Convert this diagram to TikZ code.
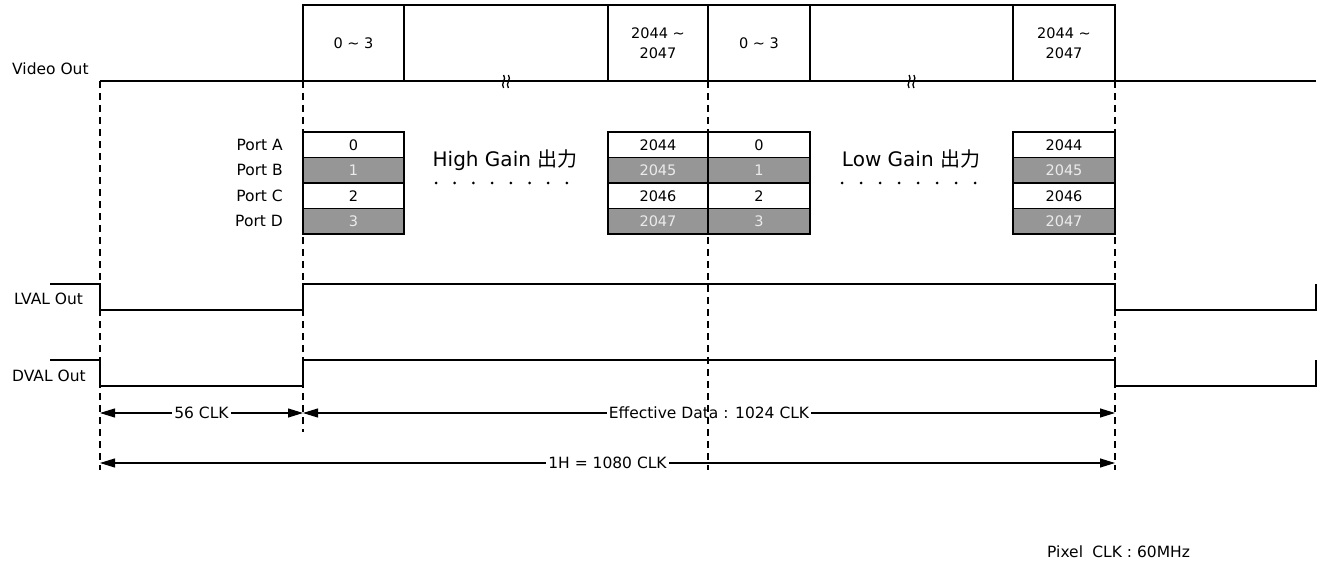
\documentclass[tikz,border=0pt]{standalone}
\usepackage[rgb]{xcolor}
\usepackage{tikz}
\usepackage{fontspec}
\setmainfont{DejaVu Sans}
\newfontfamily\cjk{Noto Sans CJK JP}
\usetikzlibrary{arrows.meta,positioning}

\definecolor{portgray}{RGB}{150,150,150}
\definecolor{porttext}{RGB}{235,235,235}

\tikzset{
  wave/.style={black, line width=1.2pt},
  guide/.style={black, line width=1.1pt, dash pattern=on 7pt off 5pt},
  vbox/.style={draw, line width=1.2pt, minimum height=76pt, inner sep=0pt, outer sep=0pt, align=center, font=\fontsize{14.5}{20}\selectfont},
  pcell/.style={draw, line width=1.2pt, minimum height=25.5pt, inner sep=0pt, outer sep=0pt, font=\fontsize{14.5}{15}\selectfont},
  pdark/.style={pcell, fill=portgray, text=porttext},
  txt/.style={font=\fontsize{15.5}{16}\selectfont, inner sep=0pt},
  gain/.style={font=\fontsize{20}{20}\selectfont, inner sep=0pt, anchor=base},
  span/.style={black, line width=1.1pt, {Triangle[length=15pt,width=9pt]}-{Triangle[length=15pt,width=9pt]}},
  spanlbl/.style={txt, fill=white, inner xsep=2pt, inner ysep=1pt},
}

\begin{document}
\begin{tikzpicture}[x=1pt, y=-1pt]
\useasboundingbox (0,0) rectangle (1326,564);

%% Video Out words
\node[vbox, anchor=north west, minimum width=101pt] (v1) at (303,5) {0 ∼ 3};
\node[vbox, anchor=north west, minimum width=204pt] (v2) at (v1.north east) {};
\node[vbox, anchor=north west, minimum width=100pt] (v3) at (v2.north east) {2044 ∼\\2047};
\node[vbox, anchor=north west, minimum width=102pt] (v4) at (v3.north east) {0 ∼ 3};
\node[vbox, anchor=north west, minimum width=203pt] (v5) at (v4.north east) {};
\node[vbox, anchor=north west, minimum width=102pt] (v6) at (v5.north east) {2044 ∼\\2047};

\coordinate (vo0) at (100,81);
\coordinate (vo1) at (1316,81);
\draw[wave] (vo0) -- (vo1);
\node[txt, anchor=base west] (video) at (12,75) {Video Out};

%% break marks
\foreach \b in {v2,v5}
  \foreach \dx in {-2.4,2.4}
    \draw[line width=1.3pt] ([xshift=\dx pt, yshift=6pt]\b.south) .. controls +(3.5pt,-4pt) and +(-3.5pt,4pt) .. +(0pt,-13pt);

%% Port A-D cells
\foreach \c/\w/\a/\b/\cc/\d in {v1/101/0/1/2/3, v3/100/2044/2045/2046/2047, v4/102/0/1/2/3, v6/102/2044/2045/2046/2047} {
  \node[pcell, minimum width=\w pt, anchor=north west] (\c-a) at (\c.south west |- 0,132) {\a};
  \node[pdark, minimum width=\w pt, anchor=north] (\c-b) at (\c-a.south) {\b};
  \node[pcell, minimum width=\w pt, anchor=north] (\c-c) at (\c-b.south) {\cc};
  \node[pdark, minimum width=\w pt, anchor=north] (\c-d) at (\c-c.south) {\d};
}
\foreach \r/\n in {a/A, b/B, c/C, d/D}
  \node[txt, left=20pt of v1-\r] (port\n) {Port \n};

\node[gain] (high) at (505,167) {High Gain {\cjk 出力}};
\node[gain] (low) at (911,167) {Low Gain {\cjk 出力}};
\foreach \i in {0,...,7} {
  \fill (436+18.7*\i,183) circle (1.5pt);
  \fill (842+19*\i,183) circle (1.5pt);
}

%% LVAL / DVAL
\node[txt, anchor=base west] (lval) at (14,305) {LVAL Out};
\draw[wave] (50,284) -- (100,284) -- (100,310) -- (303,310) -- (303,284) -- (1115,284) -- (1115,310) -- (1316,310) -- (1316,284);
\node[txt, anchor=base west] (dval) at (12,381) {DVAL Out};
\draw[wave] (50,360) -- (100,360) -- (100,386) -- (303,386) -- (303,360) -- (1115,360) -- (1115,386) -- (1316,386) -- (1316,360);

%% spans
\coordinate (s0) at (100,413);
\coordinate (s1) at (303,413);
\coordinate (s2) at (1115,413);
\coordinate (h0) at (100,463);
\coordinate (h1) at (1115,463);
\draw[span] (s0) -- node[spanlbl] {56 CLK} (s1);
\draw[span] (s1) -- node[spanlbl] {Effective Data : 1024 CLK} (s2);
\draw[span] (h0) -- node[spanlbl] {1H = 1080 CLK} (h1);

%% timing guides
\coordinate (t0) at (100,81);
\coordinate (t1) at (303,81);
\coordinate (t2) at (708,81);
\coordinate (t3) at (1115,81);
\draw[guide] (t0) -- ++(0,389);
\draw[guide] (t1) -- ++(0,351);
\draw[guide] (t2) -- ++(0,389);
\draw[guide] (t3) -- ++(0,389);

\node[txt, anchor=base west] (pclk) at (1047,557) {Pixel\hspace{0.6em}CLK : 60MHz};

\end{tikzpicture}
\end{document}
